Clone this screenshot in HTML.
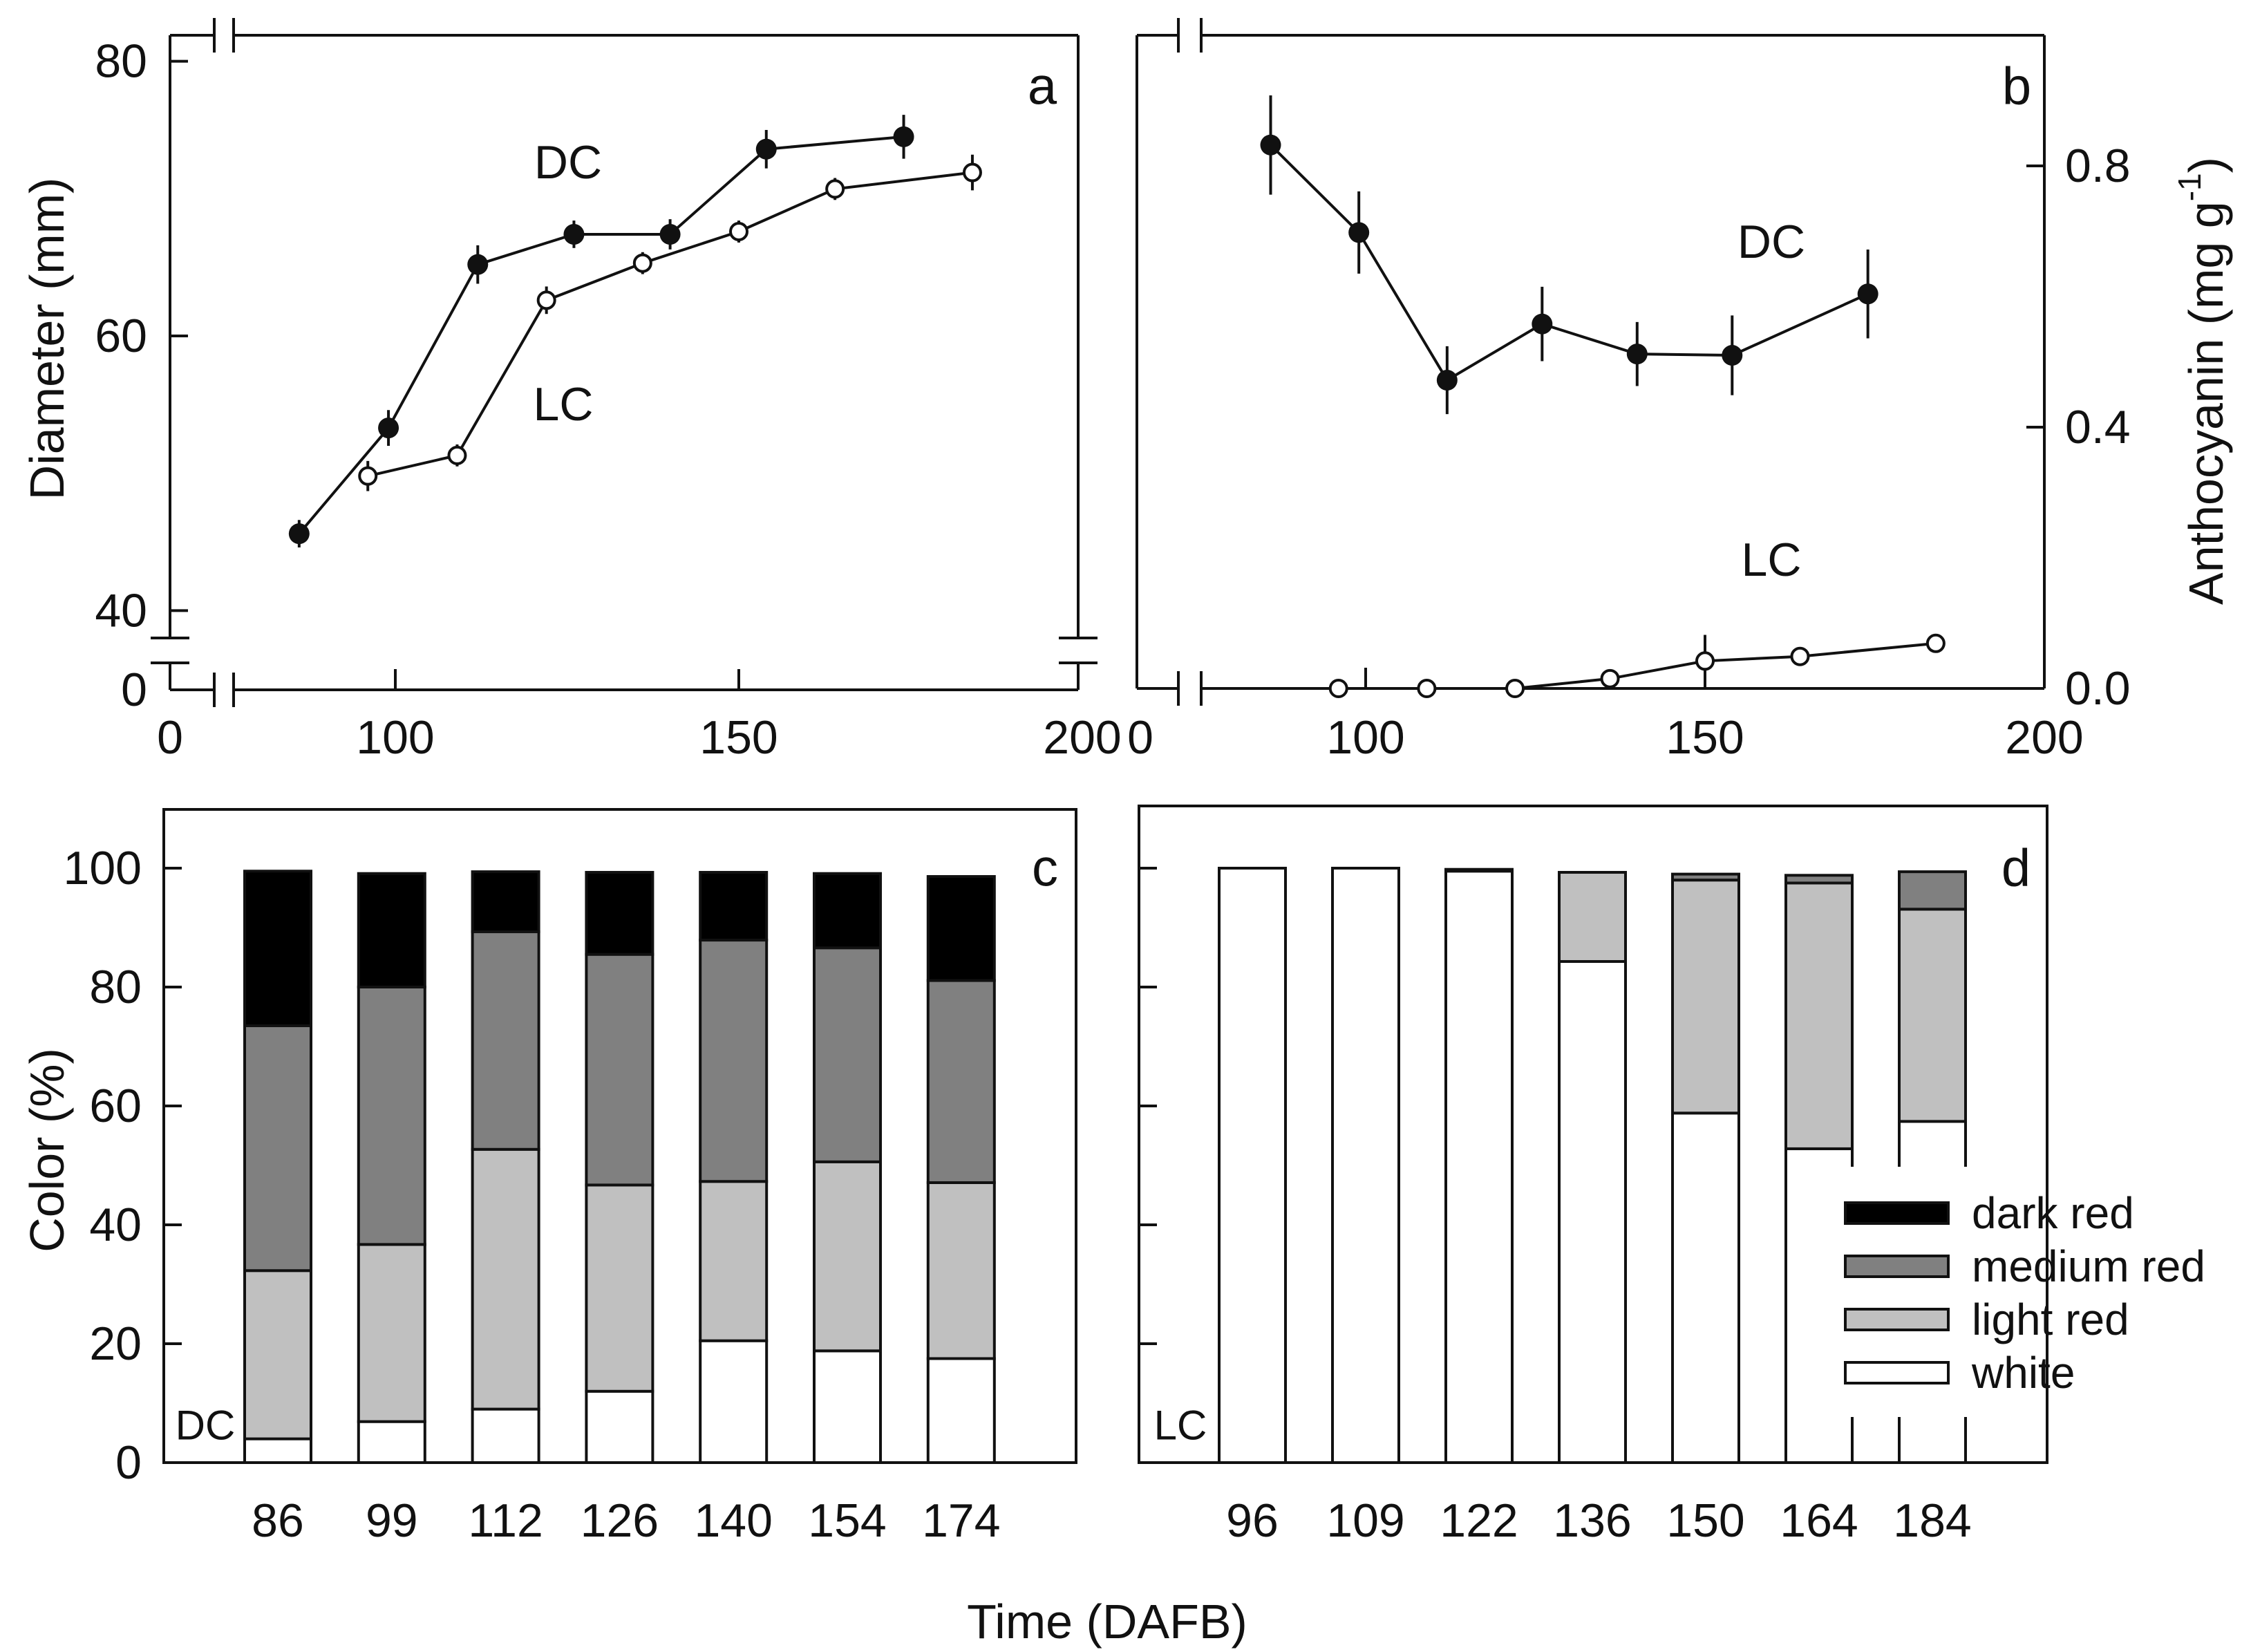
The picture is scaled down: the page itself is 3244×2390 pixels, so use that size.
<!DOCTYPE html>
<html><head><meta charset="utf-8"><style>
html,body{margin:0;padding:0;background:#fff}
svg{display:block}
text{font-family:"Liberation Sans",sans-serif;fill:#111}
</style></head><body>
<svg id="fig" width="3244" height="2390" viewBox="0 0 3244 2390"></svg>
<script>
const dcDaysA=[86,99,112,126,140,154,174];
const dcDiam=[45.6,53.3,65.2,67.4,67.4,73.6,74.5];
const dcDiamErr=[1.0,1.3,1.4,1.0,1.1,1.4,1.6];
const lcDaysA=[96,109,122,136,150,164,184];
const lcDiam=[49.8,51.3,62.6,65.3,67.6,70.7,71.9];
const lcDiamErr=[1.1,0.8,1.0,0.8,0.8,0.8,1.3];
const dcAnth=[0.832,0.698,0.472,0.558,0.512,0.51,0.604];
const dcAnthErr=[0.076,0.063,0.052,0.057,0.049,0.061,0.068];
const lcAnth=[0,0,0,0.015,0.042,0.049,0.069];
const lcAnthErr=[0,0,0,0.005,0.04,0.005,0.01];
const dcCats=["86","99","112","126","140","154","174"];
const dcWhite=[4.0,6.9,9.0,12.0,20.5,18.8,17.5];
const dcLight=[28.3,29.8,43.7,34.7,26.8,31.8,29.6];
const dcMedium=[41.2,43.3,36.6,38.8,40.6,36.0,34.0];
const dcDark=[26.0,19.1,10.1,13.8,11.4,12.5,17.5];
const lcCats=["96","109","122","136","150","164","184"];
const lcWhite=[100,100,99.5,84.3,58.8,52.8,57.4];
const lcLight=[0,0,0.3,15.0,39.2,44.7,35.7];
const lcMedium=[0,0,0,0,1.0,1.3,6.3];
const lcDark=[0,0,0,0,0,0,0];
const yTicksA=[40,60,80];
const yTicksB=[0,0.4,0.8];
const xTicks=[100,150,200];
const yTicksC=[0,20,40,60,80,100];
const legendLabels=["dark red","medium red","light red","white"];

const svg=document.getElementById('fig');
const NS='http://www.w3.org/2000/svg';
const FS=68;
function mk(tag,attrs,parent){const e=document.createElementNS(NS,tag);for(const k in attrs)e.setAttribute(k,attrs[k]);(parent||svg).appendChild(e);return e;}
function line(x1,y1,x2,y2,w,p){return mk('line',{x1,y1,x2,y2,stroke:'#111','stroke-width':w||4},p);}
function txt(s,x,y,size,anchor,p,extra){const t=mk('text',{x,y,'font-size':size,'text-anchor':anchor||'middle','dominant-baseline':'central'},p);t.textContent=s;if(extra)for(const k in extra)t.setAttribute(k,extra[k]);return t;}

// ===== Panel a =====
const gA=mk('g',{});


const axA={L:246,R:1560,T:51,B:998};
const xA=v=>572+(v-100)*9.94;
const yA=v=>486-(v-60)*19.87;
[axA.T,axA.B].forEach(y=>{line(axA.L,y,310,y,4,gA);line(338,y,axA.R,y,4,gA);line(310,y-25,310,y+25,4,gA);line(338,y-25,338,y+25,4,gA);});
[axA.L,axA.R].forEach(x=>{line(x,axA.T,x,923,4,gA);line(x,959,x,axA.B,4,gA);line(x-28,923,x+28,923,4,gA);line(x-28,959,x+28,959,4,gA);});
yTicksA.forEach(v=>{line(axA.L,yA(v),axA.L+26,yA(v),4,gA);txt(String(v),213,yA(v),FS,'end',gA);});
txt('0',213,998,FS,'end',gA);
xTicks.forEach(v=>{if(v<200)line(xA(v),axA.B,xA(v),axA.B-30,4,gA);txt(String(v),xA(v),1067,FS,'middle',gA);});
txt('0',246,1067,FS,'middle',gA);
function series(days,vals,errs,xf,yf,filled,g,name){
  const sg=mk('g',{},g);
  
  
  mk('polyline',{points:days.map((d,i)=>xf(d)+','+yf(vals[i])).join(' '),fill:'none',stroke:'#111','stroke-width':4},sg);
  days.forEach((d,i)=>{
    line(xf(d),yf(vals[i]-errs[i]),xf(d),yf(vals[i]+errs[i]),4,sg);
    const c=mk('circle',{cx:xf(d),cy:yf(vals[i]),r:filled?15:12,fill:filled?'#111':'#fff',stroke:'#111','stroke-width':filled?0:4},sg);
    
    
  });
}
series(dcDaysA,dcDiam,dcDiamErr,xA,yA,true,gA,'dc-diameter-series');
series(lcDaysA,lcDiam,lcDiamErr,xA,yA,false,gA,'lc-diameter-series');
txt('DC',822,235,FS,'middle',gA);
txt('LC',815,585,FS,'middle',gA);
txt('a',1508,125,76,'middle',gA);
txt('Diameter (mm)',68,490,70,'middle',gA,{transform:'rotate(-90 68 490)'});

// ===== Panel b =====
const gB=mk('g',{});


const axB={L:1645,R:2958,T:51,B:996};
const xB=v=>1976+(v-100)*9.82;
const yB=v=>996-v*945;
[axB.T,axB.B].forEach(y=>{line(axB.L,y,1705,y,4,gB);line(1738,y,axB.R,y,4,gB);line(1705,y-25,1705,y+25,4,gB);line(1738,y-25,1738,y+25,4,gB);});
line(axB.L,axB.T,axB.L,axB.B,4,gB);line(axB.R,axB.T,axB.R,axB.B,4,gB);
yTicksB.forEach(v=>{line(axB.R,yB(v),axB.R-26,yB(v),4,gB);txt(v.toFixed(1),2988,yB(v),FS,'start',gB);});
xTicks.forEach(v=>{if(v<200)line(xB(v),axB.B,xB(v),axB.B-30,4,gB);txt(String(v),xB(v),1067,FS,'middle',gB);});
txt('0',1650,1067,FS,'middle',gB);
series(dcDaysA,dcAnth,dcAnthErr,xB,yB,true,gB,'dc-anthocyanin-series');
series(lcDaysA,lcAnth,lcAnthErr,xB,yB,false,gB,'lc-anthocyanin-series');
txt('DC',2563,350,FS,'middle',gB);
txt('LC',2563,810,FS,'middle',gB);
txt('b',2918,125,76,'middle',gB);
const at=mk('text',{x:3192,y:551,'font-size':70,'text-anchor':'middle','dominant-baseline':'central',transform:'rotate(-90 3192 551)'},gB);


at.innerHTML='Anthocyanin (mg g<tspan dy="-24" font-size="46">-1</tspan><tspan dy="24">)</tspan>';

// ===== Bar panels =====
const fills=['#fff','#c0c0c0','#808080','#000'];
function barPanel(name,ax,cats,white,light,medium,dark,centerX,step,label,letter,withY){
  const g=mk('g',{});
  
  
  const y=v=>ax.B-v*8.6;
  const layers=[white,light,medium,dark];
  cats.forEach((c,i)=>{
    const cx=centerX+i*step;let base=0;
    layers.forEach((arr,k)=>{
      const v=arr[i];if(v<=0)return;
      const r=mk('rect',{x:cx-48,y:y(base+v),width:96,height:v*8.6,fill:fills[k],stroke:'#111','stroke-width':4},g);
      
      
      base+=v;
    });
    txt(c,cx,ax.B+84,FS,'middle',g);
  });
  mk('rect',{x:ax.L,y:ax.T,width:ax.R-ax.L,height:ax.B-ax.T,fill:'none',stroke:'#111','stroke-width':4},g);
  yTicksC.forEach(v=>{line(ax.L,y(v),ax.L+26,y(v),4,g);if(withY)txt(String(v),205,y(v),FS,'end',g);});
  txt(label,ax.L+60,2062,60,'middle',g);
  txt(letter,ax.R-45,1256,76,'middle',g);
  return g;
}
barPanel('panel-c-dc-color',{L:237,R:1557,T:1171,B:2116},dcCats,dcWhite,dcLight,dcMedium,dcDark,402,164.8,'DC','c',true);
const gD=barPanel('panel-d-lc-color',{L:1648,R:2962,T:1166,B:2116},lcCats,lcWhite,lcLight,lcMedium,lcDark,1812,164,'LC','d',false);
// legend
const lg=mk('g',{},gD);


mk('rect',{x:2598,y:1688,width:362,height:362,fill:'#fff'},lg);
legendLabels.forEach((l,i)=>{
  const yy=1755+i*77;
  const r=mk('rect',{x:2670,y:yy-15,width:149,height:30,fill:fills[3-i],stroke:'#111','stroke-width':4},lg);
  
  
  txt(l,2853,yy,64,'start',lg);
});
txt('Color (%)',68,1664,70,'middle',null,{transform:'rotate(-90 68 1664)'});
txt('Time (DAFB)',1602,2346,70,'middle');
</script>
</body></html>
